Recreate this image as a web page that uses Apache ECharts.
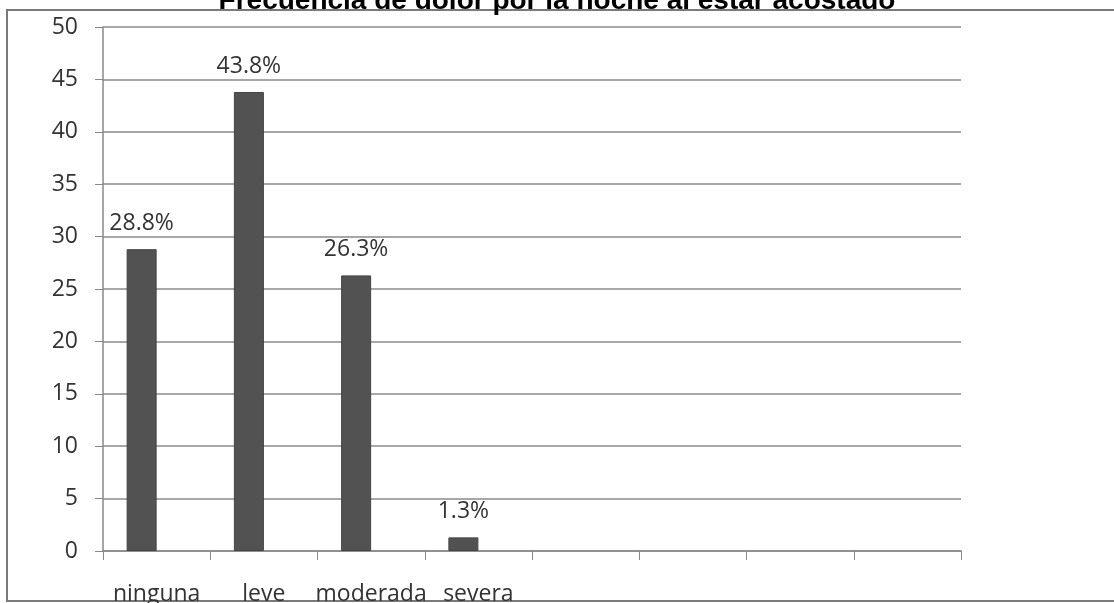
<!DOCTYPE html>
<html>
<head>
<meta charset="utf-8">
<script src="https://cdn.jsdelivr.net/npm/echarts@6/dist/echarts.min.js"></script>
<style>html,body{margin:0;padding:0;background:#fff}#c{width:1114px;height:603px}</style>
</head>
<body>
<div id="c"></div>
<script>
const titleText = 'Frecuencia de dolor por la noche al estar acostado';
const categories = ['ninguna', 'leve', 'moderada', 'severa', '', '', '', ''];
const percentValues = [28.8, 43.8, 26.3, 1.3, null, null, null, null];
const emptySeries = [null, null, null, null, null, null, null, null];
const yTicks = [0, 5, 10, 15, 20, 25, 30, 35, 40, 45, 50];

const chart = echarts.init(document.getElementById('c'));
const font = '"Open Sans", sans-serif';
chart.setOption({
  animation: false,
  backgroundColor: '#fff',
  title: {
    text: titleText,
    left: 'center',
    top: -18,
    textStyle: { fontFamily: '"Liberation Sans", Arial, sans-serif', fontWeight: 'bold', fontSize: 28, color: '#000' }
  },
  graphic: [{
    type: 'rect',
    shape: { x: 7, y: 10, width: 1120, height: 591 },
    style: { fill: 'none', stroke: '#7a7a7a', lineWidth: 2 },
    z: -1
  }],
  grid: { left: 103, right: 153, top: 27, bottom: 52, containLabel: false, outerBoundsMode: 'none' },
  xAxis: {
    type: 'category',
    data: categories,
    axisLine: { lineStyle: { color: '#888', width: 1.5 } },
    axisTick: { show: true, length: 9, alignWithLabel: false, lineStyle: { color: '#888' } },
    axisLabel: { margin: 32, fontFamily: font, fontSize: 23, color: '#333', interval: 0 }
  },
  yAxis: {
    type: 'value',
    min: yTicks[0],
    max: yTicks[yTicks.length - 1],
    interval: 5,
    axisLine: { show: true, lineStyle: { color: '#888', width: 1.5 } },
    axisTick: { show: true, length: 8, lineStyle: { color: '#888' } },
    axisLabel: { margin: 25, fontFamily: font, fontSize: 23, color: '#333' },
    splitLine: { lineStyle: { color: '#8a8a8a', width: 1.5 } }
  },
  series: [{
    type: 'bar',
    data: percentValues,
    barWidth: 30,
    barGap: '0%',
    itemStyle: { color: '#525252', borderColor: '#444', borderWidth: 1 },
    label: {
      show: true,
      position: 'top',
      distance: 14,
      formatter: p => p.value + '%',
      fontFamily: font,
      fontSize: 23,
      color: '#333'
    }
  }, {
    type: 'bar',
    data: emptySeries,
    barWidth: 30,
    barGap: '0%',
    itemStyle: { color: '#999' }
  }]
});
</script>
</body>
</html>
